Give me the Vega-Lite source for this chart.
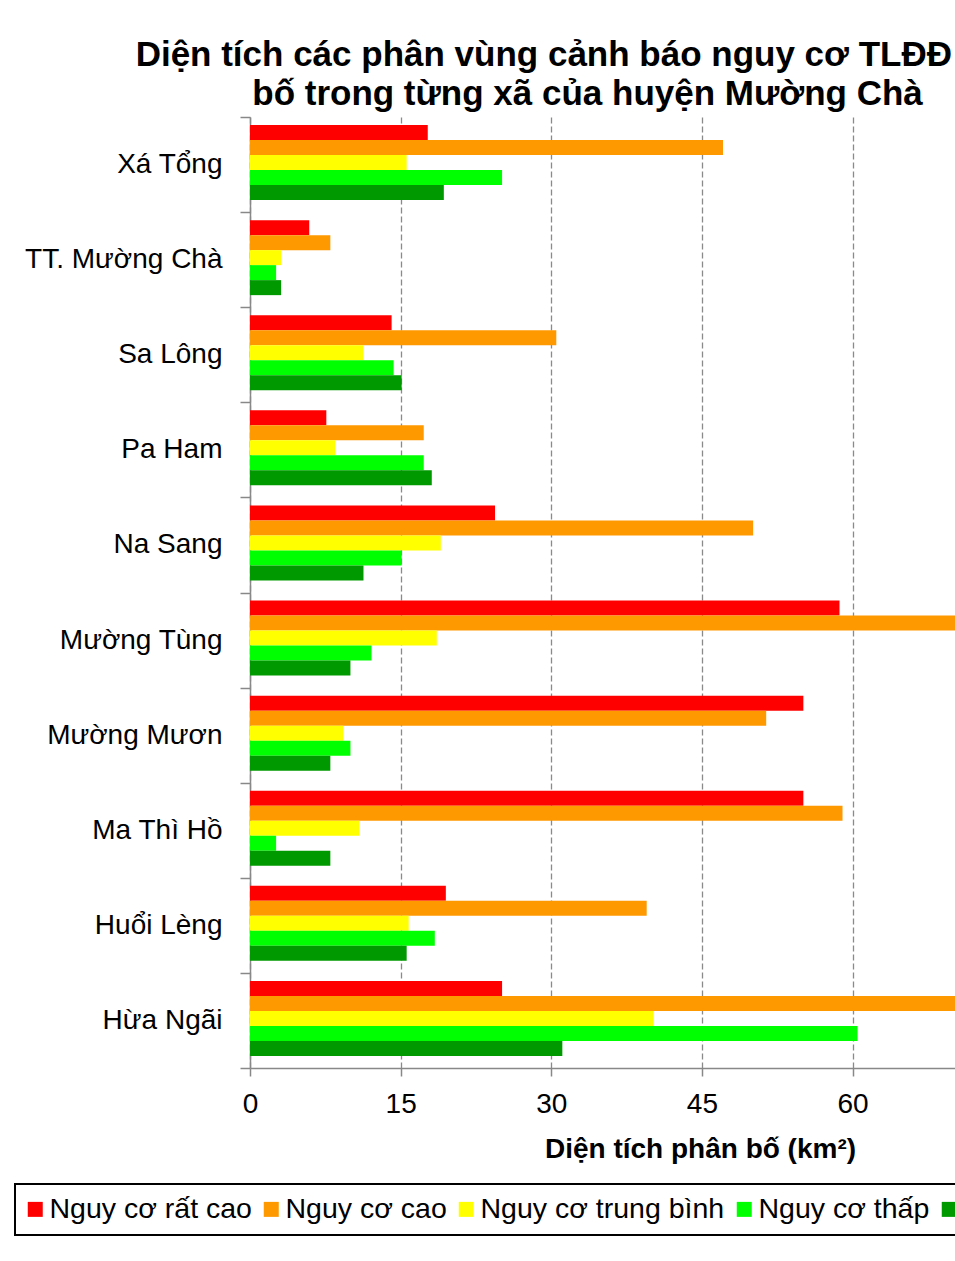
{
  "$schema": "https://vega.github.io/schema/vega-lite/v6.json",
  "width": 705,
  "height": 951,
  "autosize": {"type": "none"},
  "padding": {"left": 250, "top": 117, "right": 0, "bottom": 193},
  "background": "white",
  "title": {
    "text": ["Diện tích các phân vùng cảnh báo nguy cơ TLĐĐ", "bố trong từng xã của huyện Mường Chà\u00a0\u00a0\u00a0\u200b"],
    "anchor": "end",
    "align": "right",
    "frame": "group",
    "fontSize": 35,
    "fontWeight": "bold",
    "font": "Liberation Sans",
    "lineHeight": 39,
    "dx": -3,
    "offset": -9,
    "color": "black"
  },
  "data": {
    "values": [
      {"xa": "Xá Tổng", "muc": "Nguy cơ rất cao", "dien_tich": 17.7},
      {"xa": "Xá Tổng", "muc": "Nguy cơ cao", "dien_tich": 47.1},
      {"xa": "Xá Tổng", "muc": "Nguy cơ trung bình", "dien_tich": 15.6},
      {"xa": "Xá Tổng", "muc": "Nguy cơ thấp", "dien_tich": 25.1},
      {"xa": "Xá Tổng", "muc": "Nguy cơ rất thấp", "dien_tich": 19.3},
      {"xa": "TT. Mường Chà", "muc": "Nguy cơ rất cao", "dien_tich": 5.9},
      {"xa": "TT. Mường Chà", "muc": "Nguy cơ cao", "dien_tich": 8.0},
      {"xa": "TT. Mường Chà", "muc": "Nguy cơ trung bình", "dien_tich": 3.1},
      {"xa": "TT. Mường Chà", "muc": "Nguy cơ thấp", "dien_tich": 2.6},
      {"xa": "TT. Mường Chà", "muc": "Nguy cơ rất thấp", "dien_tich": 3.1},
      {"xa": "Sa Lông", "muc": "Nguy cơ rất cao", "dien_tich": 14.1},
      {"xa": "Sa Lông", "muc": "Nguy cơ cao", "dien_tich": 30.5},
      {"xa": "Sa Lông", "muc": "Nguy cơ trung bình", "dien_tich": 11.3},
      {"xa": "Sa Lông", "muc": "Nguy cơ thấp", "dien_tich": 14.3},
      {"xa": "Sa Lông", "muc": "Nguy cơ rất thấp", "dien_tich": 15.1},
      {"xa": "Pa Ham", "muc": "Nguy cơ rất cao", "dien_tich": 7.6},
      {"xa": "Pa Ham", "muc": "Nguy cơ cao", "dien_tich": 17.3},
      {"xa": "Pa Ham", "muc": "Nguy cơ trung bình", "dien_tich": 8.5},
      {"xa": "Pa Ham", "muc": "Nguy cơ thấp", "dien_tich": 17.3},
      {"xa": "Pa Ham", "muc": "Nguy cơ rất thấp", "dien_tich": 18.1},
      {"xa": "Na Sang", "muc": "Nguy cơ rất cao", "dien_tich": 24.4},
      {"xa": "Na Sang", "muc": "Nguy cơ cao", "dien_tich": 50.1},
      {"xa": "Na Sang", "muc": "Nguy cơ trung bình", "dien_tich": 19.0},
      {"xa": "Na Sang", "muc": "Nguy cơ thấp", "dien_tich": 15.1},
      {"xa": "Na Sang", "muc": "Nguy cơ rất thấp", "dien_tich": 11.3},
      {"xa": "Mường Tùng", "muc": "Nguy cơ rất cao", "dien_tich": 58.7},
      {"xa": "Mường Tùng", "muc": "Nguy cơ cao", "dien_tich": 76.0},
      {"xa": "Mường Tùng", "muc": "Nguy cơ trung bình", "dien_tich": 18.6},
      {"xa": "Mường Tùng", "muc": "Nguy cơ thấp", "dien_tich": 12.1},
      {"xa": "Mường Tùng", "muc": "Nguy cơ rất thấp", "dien_tich": 10.0},
      {"xa": "Mường Mươn", "muc": "Nguy cơ rất cao", "dien_tich": 55.1},
      {"xa": "Mường Mươn", "muc": "Nguy cơ cao", "dien_tich": 51.4},
      {"xa": "Mường Mươn", "muc": "Nguy cơ trung bình", "dien_tich": 9.3},
      {"xa": "Mường Mươn", "muc": "Nguy cơ thấp", "dien_tich": 10.0},
      {"xa": "Mường Mươn", "muc": "Nguy cơ rất thấp", "dien_tich": 8.0},
      {"xa": "Ma Thì Hồ", "muc": "Nguy cơ rất cao", "dien_tich": 55.1},
      {"xa": "Ma Thì Hồ", "muc": "Nguy cơ cao", "dien_tich": 59.0},
      {"xa": "Ma Thì Hồ", "muc": "Nguy cơ trung bình", "dien_tich": 10.9},
      {"xa": "Ma Thì Hồ", "muc": "Nguy cơ thấp", "dien_tich": 2.6},
      {"xa": "Ma Thì Hồ", "muc": "Nguy cơ rất thấp", "dien_tich": 8.0},
      {"xa": "Huổi Lèng", "muc": "Nguy cơ rất cao", "dien_tich": 19.5},
      {"xa": "Huổi Lèng", "muc": "Nguy cơ cao", "dien_tich": 39.5},
      {"xa": "Huổi Lèng", "muc": "Nguy cơ trung bình", "dien_tich": 15.8},
      {"xa": "Huổi Lèng", "muc": "Nguy cơ thấp", "dien_tich": 18.4},
      {"xa": "Huổi Lèng", "muc": "Nguy cơ rất thấp", "dien_tich": 15.6},
      {"xa": "Hừa Ngãi", "muc": "Nguy cơ rất cao", "dien_tich": 25.1},
      {"xa": "Hừa Ngãi", "muc": "Nguy cơ cao", "dien_tich": 82.0},
      {"xa": "Hừa Ngãi", "muc": "Nguy cơ trung bình", "dien_tich": 40.2},
      {"xa": "Hừa Ngãi", "muc": "Nguy cơ thấp", "dien_tich": 60.5},
      {"xa": "Hừa Ngãi", "muc": "Nguy cơ rất thấp", "dien_tich": 31.1}
    ]
  },
  "mark": {"type": "bar", "clip": true, "opacity": 1},
  "encoding": {
    "y": {
      "field": "xa",
      "type": "nominal",
      "sort": null,
      "scale": {"paddingInner": 0, "paddingOuter": 0},
      "axis": {
        "title": null,
        "tickBand": "extent",
        "tickSize": 10,
        "labelPadding": 18,
        "labelFontSize": 28,
        "labelLimit": 400,
        "grid": false
      }
    },
    "yOffset": {
      "field": "muc",
      "type": "nominal",
      "sort": ["Nguy cơ rất cao", "Nguy cơ cao", "Nguy cơ trung bình", "Nguy cơ thấp", "Nguy cơ rất thấp"],
      "scale": {"paddingInner": 0, "paddingOuter": 0.67, "align": 0.4}
    },
    "x": {
      "field": "dien_tich",
      "type": "quantitative",
      "scale": {"domain": [0, 70.2], "nice": false, "zero": true},
      "axis": {
        "title": "Diện tích phân bố (km²)",
        "values": [0, 15, 30, 45, 60],
        "tickSize": 8,
        "labelPadding": 14,
        "labelFontSize": 28,
        "labelFlush": false,
        "labelOverlap": false,
        "grid": true,
        "gridColor": "#8a8a8a",
        "gridDash": [6, 3],
        "gridWidth": 1.3,
        "titleFontSize": 28,
        "titleFontWeight": "bold",
        "titleX": 450,
        "titleY": 89,
        "titleAlign": "center",
        "titleBaseline": "alphabetic"
      }
    },
    "color": {
      "field": "muc",
      "type": "nominal",
      "scale": {
        "domain": ["Nguy cơ rất cao", "Nguy cơ cao", "Nguy cơ trung bình", "Nguy cơ thấp", "Nguy cơ rất thấp"],
        "range": ["#FF0000", "#FF9900", "#FFFF00", "#00FF00", "#009900"]
      },
      "legend": {
        "title": null,
        "orient": "none",
        "direction": "horizontal",
        "legendX": -235,
        "legendY": 1067,
        "symbolType": "square",
        "symbolSize": 225,
        "symbolStrokeWidth": 0,
        "symbolOpacity": 1,
        "symbolOffset": -5,
        "labelFontSize": 28.5,
        "labelOffset": 0,
        "columnPadding": 10,
        "padding": 11,
        "strokeColor": "black",
        "labelLimit": 400,
        "labelExpr": "datum.label == 'Nguy cơ rất thấp' ? '' : datum.label"
      }
    }
  },
  "config": {
    "font": "Liberation Sans",
    "view": {"stroke": null},
    "axis": {
      "domainColor": "#888888",
      "domainWidth": 1.5,
      "tickColor": "#888888",
      "tickWidth": 1.5,
      "labelColor": "black",
      "titleColor": "black",
      "labelFont": "Liberation Sans",
      "titleFont": "Liberation Sans"
    },
    "legend": {"labelColor": "black", "labelFont": "Liberation Sans", "strokeWidth": 2}
  }
}
